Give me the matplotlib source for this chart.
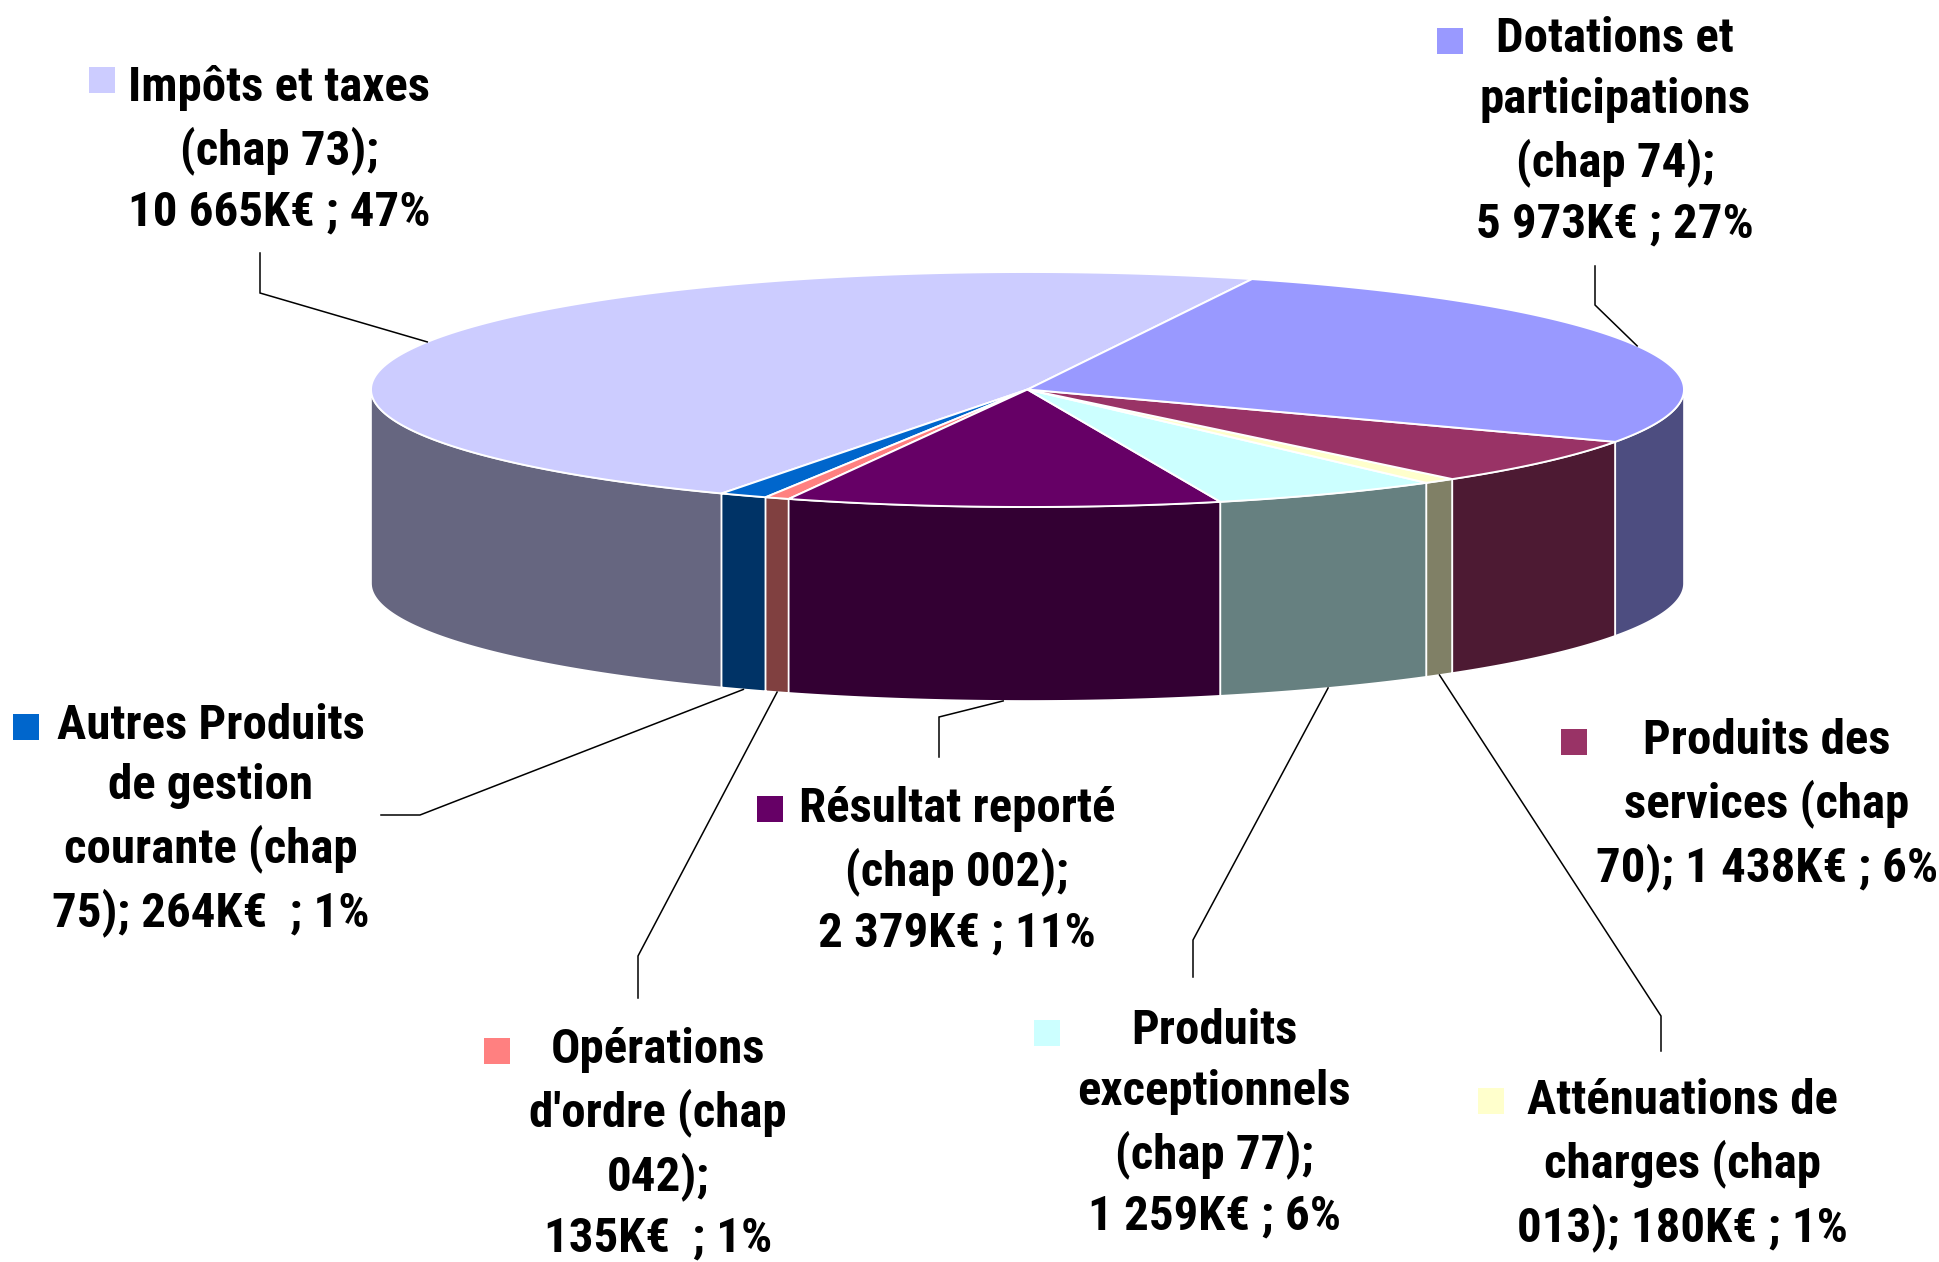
import numpy as np
import matplotlib
matplotlib.use("Agg")
import matplotlib.pyplot as plt
from matplotlib.patches import Polygon, Rectangle
from matplotlib import font_manager as fm

# ---------------- data ----------------
categories = [
    "Impôts et taxes\n(chap 73);\n10 665K€ ; 47%",
    "Autres Produits\nde gestion\ncourante (chap\n75); 264K€  ; 1%",
    "Opérations\nd'ordre (chap\n042);\n135K€  ; 1%",
    "Résultat reporté\n(chap 002);\n2 379K€ ; 11%",
    "Produits\nexceptionnels\n(chap 77);\n1 259K€ ; 6%",
    "Atténuations de\ncharges (chap\n013); 180K€ ; 1%",
    "Produits des\nservices (chap\n70); 1 438K€ ; 6%",
    "Dotations et\nparticipations\n(chap 74);\n5 973K€ ; 27%",
]
values = [10665, 264, 135, 2379, 1259, 180, 1438, 5973]
top_colors = ["#CCCCFF", "#0066CC", "#FF8080", "#660066",
              "#CCFFFF", "#FFFFCC", "#993366", "#9999FF"]

# ---------------- layout / style ----------------
W, H = 1939, 1262
cx, cy, rx, ry, depth = 1027.5, 389.5, 656.5, 117.5, 194.0
start_angle = 70.0

label_pos = [(279, 150), (211, 820), (658, 1144), (957, 871),
             (1214, 1124), (1682, 1165), (1767, 805), (1615, 132)]
marker_pos = [(102, 80), (26, 727), (497, 1051), (770, 809),
              (1047, 1033), (1491, 1101), (1574, 742), (1450, 41)]
leaders = [[(260, 293), (260, 253)],
           [(420, 815), (381, 815)],
           [(638, 956), (638, 998)],
           [(939, 717), (939, 757)],
           [(1193, 940), (1193, 977)],
           [(1661, 1016), (1661, 1051)],
           None,
           [(1595, 305), (1595, 266)]]

bold_fams = {f.name for f in fm.fontManager.ttflist
             if (f.weight == 700 or str(f.weight) in ("700", "bold")) and f.style == "normal"}
FAMILY = "DejaVu Sans"
for cand in ["Liberation Sans Narrow", "Arial Narrow", "Roboto Condensed",
             "Pragati Narrow", "Archivo Narrow", "PT Sans Narrow",
             "IBM Plex Sans Condensed", "Open Sans Condensed"]:
    if cand in bold_fams:
        FAMILY = cand
        break
FONT_SIZE = 35.2
LINE_PITCH = 64.5  # pixels between text lines

def darker(c):
    r, g, b = matplotlib.colors.to_rgb(c)
    return (r * 0.5, g * 0.5, b * 0.5)

fig = plt.figure(figsize=(W / 100, H / 100), dpi=100)
ax = fig.add_axes([0, 0, 1, 1])
ax.set_xlim(0, W)
ax.set_ylim(H, 0)
ax.axis("off")

# measure "lp" height to get requested line pitch
renderer = fig.canvas.get_renderer()
probe = fig.text(0, 0, "lp", fontsize=FONT_SIZE, fontweight="bold", family=FAMILY)
_, h_lp, _ = renderer.get_text_width_height_descent(
    "lp", probe.get_fontproperties(), ismath=False)
probe.remove()
linesp = LINE_PITCH / h_lp

def rim(t_deg, drop=0.0):
    t = np.radians(t_deg)
    return cx + rx * np.cos(t), cy - ry * np.sin(t) + drop

vals = np.array(values, dtype=float)
spans = vals / vals.sum() * 360.0
edges = start_angle + np.concatenate([[0], np.cumsum(spans)])

# side walls (front half, 180..360 deg)
for i in range(len(vals)):
    a, b = edges[i], edges[i + 1]
    for off in (0, 360, -360):
        lo = max(a + off, 180.0)
        hi = min(b + off, 360.0)
        if hi > lo:
            ts = np.linspace(lo, hi, 80)
            tx, ty = rim(ts)
            bx, by = rim(ts[::-1], depth)
            pts = np.column_stack([np.concatenate([tx, bx]), np.concatenate([ty, by])])
            ax.add_patch(Polygon(pts, closed=True, facecolor=darker(top_colors[i]),
                                 edgecolor="white", linewidth=1.2, zorder=1))

# top face wedges
for i in range(len(vals)):
    ts = np.linspace(edges[i], edges[i + 1], 200)
    tx, ty = rim(ts)
    pts = np.column_stack([np.concatenate([[cx], tx]), np.concatenate([[cy], ty])])
    ax.add_patch(Polygon(pts, closed=True, facecolor=top_colors[i],
                         edgecolor="white", linewidth=1.4, zorder=2))

# labels, markers, leader lines
for i, lab in enumerate(categories):
    x, y = label_pos[i]
    ax.text(x, y, lab, ha="center", va="center", multialignment="center",
            fontsize=FONT_SIZE, fontweight="bold", linespacing=linesp,
            color="black", zorder=5, family=FAMILY)
    mx, my = marker_pos[i]
    ax.add_patch(Rectangle((mx - 13, my - 13), 26, 26, facecolor=top_colors[i],
                           edgecolor="none", zorder=5))
    if leaders[i] is not None:
        mid = (edges[i] + edges[i + 1]) / 2.0
        s = np.sin(np.radians(mid))
        ax_, ay_ = rim(mid, depth if s < 0 else 0.0)
        xs = [ax_] + [p[0] for p in leaders[i]]
        ys = [ay_] + [p[1] for p in leaders[i]]
        ax.plot(xs, ys, color="black", linewidth=1.1, zorder=4,
                solid_joinstyle="miter")

fig.savefig("out.png", dpi=100, facecolor="white")
